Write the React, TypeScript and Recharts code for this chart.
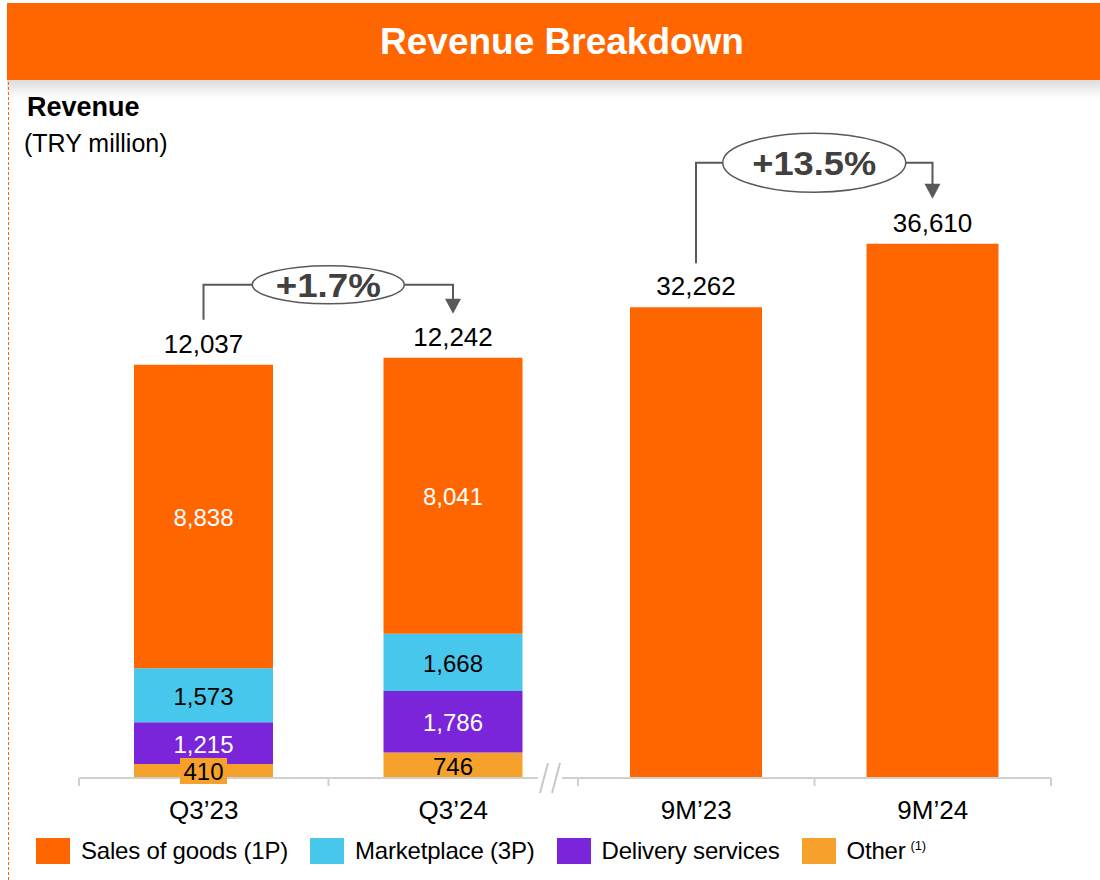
import React from "react";
import { BarChart, Bar, XAxis, YAxis, LabelList } from "recharts";

// ---------- data ----------
const q3Categories = ["Q3’23", "Q3’24"];
const nineMonthCategories = ["9M’23", "9M’24"];
const salesOfGoods1P = [8838, 8041];
const marketplace3P = [1573, 1668];
const deliveryServices = [1215, 1786];
const otherRevenue = [410, 746];
const q3Totals = [12037, 12242];
const nineMonthTotals = [32262, 36610];
const q3Growth = "+1.7%";
const nineMonthGrowth = "+13.5%";

const seriesNames = ["Sales of goods (1P)", "Marketplace (3P)", "Delivery services", "Other"];
const seriesColors = ["#FF6600", "#47C7EC", "#7A25DA", "#F5A12C"];

const q3Data = q3Categories.map((category, i) => ({
  category,
  other: otherRevenue[i],
  delivery: deliveryServices[i],
  marketplace: marketplace3P[i],
  sales: salesOfGoods1P[i],
}));
const nineMonthData = nineMonthCategories.map((category, i) => ({
  category,
  total: nineMonthTotals[i],
}));

// ---------- styles / layout ----------
const FONT = "'Liberation Sans', Arial, Helvetica, sans-serif";
const AXIS = "#d0d0d0";
const LINE = "#595959";
const W = 1100;
const H = 880;
const Q3_LEFT = 79;
const Q3_RIGHT = 578;
const NM_LEFT = 578;
const NM_RIGHT = 1051;
const BOTTOM_MARGIN = 72;

const fmt = (v: number) => v.toLocaleString("en-US");

function getBox(props: any) {
  const vb = props.viewBox && props.viewBox.width !== undefined ? props.viewBox : props;
  const x = Number(vb.x);
  const y = Number(vb.y);
  const w = Number(vb.width);
  const h = Number(vb.height);
  const top = Math.min(y, y + h);
  return { x, top, width: w, height: Math.abs(h), cx: x + w / 2 };
}

function makeSegmentLabel(color: string, boxFill?: string) {
  return (props: any) => {
    const b = getBox(props);
    const cy = b.top + b.height / 2;
    const v = props.value;
    const needBox = boxFill && b.height < 24;
    return (
      <g>
        {needBox ? <rect x={b.cx - 23.5} y={cy - 13} width={47} height={26} fill={boxFill} /> : null}
        <text
          x={b.cx}
          y={cy + 1}
          textAnchor="middle"
          dominantBaseline="central"
          fontSize={24}
          fontFamily={FONT}
          fill={color}
        >
          {fmt(Number(v))}
        </text>
      </g>
    );
  };
}

const stash: Record<string, { cx: number; top: number }> = {};

type BracketCfg = { startGap: number; rise: number; arrowGap: number; rx: number; ry: number; textLen: number; fontSize: number };

function makeTotalLabel(key: string, totals: number[], growth: string, cfg: BracketCfg) {
  return (props: any) => {
    const b = getBox(props);
    const idx = Number(props.index);
    const txt = (
      <text x={b.cx} y={b.top - 12} textAnchor="middle" fontSize={26} fontFamily={FONT} fill="#000">
        {fmt(totals[idx])}
      </text>
    );
    if (idx === 0) {
      stash[key] = { cx: b.cx, top: b.top };
      return txt;
    }
    const a = stash[key];
    if (!a) return txt;
    const by = Math.min(a.top, b.top) - cfg.rise;
    const ex = (a.cx + b.cx) / 2;
    const tip = b.top - cfg.arrowGap;
    return (
      <g>
        {txt}
        <polyline
          points={`${a.cx},${a.top - cfg.startGap} ${a.cx},${by} ${ex - cfg.rx},${by}`}
          fill="none"
          stroke={LINE}
          strokeWidth={2}
        />
        <polyline
          points={`${ex + cfg.rx},${by} ${b.cx},${by} ${b.cx},${tip - 14}`}
          fill="none"
          stroke={LINE}
          strokeWidth={2}
        />
        <polygon points={`${b.cx - 8},${tip - 15} ${b.cx + 8},${tip - 15} ${b.cx},${tip}`} fill={LINE} />
        <ellipse cx={ex} cy={by} rx={cfg.rx} ry={cfg.ry} fill="#fff" stroke={LINE} strokeWidth={1.5} />
        <text
          x={ex}
          y={by + 1}
          textAnchor="middle"
          dominantBaseline="central"
          fontSize={cfg.fontSize}
          fontWeight="bold"
          fontFamily={FONT}
          fill="#404040"
          textLength={cfg.textLen}
          lengthAdjust="spacingAndGlyphs"
        >
          {growth}
        </text>
      </g>
    );
  };
}

function makeTick(bandWidth: number, count: number, withBreak: boolean) {
  return (props: any) => {
    const { x, y, payload } = props;
    const idx = Number(payload.index);
    const left = x - bandWidth / 2;
    const right = x + bandWidth / 2;
    return (
      <g>
        <line x1={left} x2={left} y1={y} y2={y + 8} stroke={AXIS} strokeWidth={2} />
        {idx === count - 1 ? <line x1={right} x2={right} y1={y} y2={y + 8} stroke={AXIS} strokeWidth={2} /> : null}
        {withBreak && idx === count - 1 ? (
          <g>
            <rect x={right - 40} y={y - 3} width={24} height={6} fill="#fff" />
            <line x1={right - 38} y1={y + 15} x2={right - 30} y2={y - 15} stroke="#c8c8c8" strokeWidth={2} />
            <line x1={right - 26} y1={y + 15} x2={right - 18} y2={y - 15} stroke="#c8c8c8" strokeWidth={2} />
          </g>
        ) : null}
        <text x={x} y={y + 41} textAnchor="middle" fontSize={26} fontFamily={FONT} fill="#000">
          {payload.value}
        </text>
      </g>
    );
  };
}

const q3Bracket: BracketCfg = { startGap: 45, rise: 73, arrowGap: 44, rx: 76, ry: 19, textLen: 105, fontSize: 33 };
const nmBracket: BracketCfg = { startGap: 44, rise: 81, arrowGap: 45, rx: 91.5, ry: 29.5, textLen: 124, fontSize: 33 };

export default function App() {
  const legendOrder = [0, 1, 2, 3];
  return (
    <div style={{ position: "absolute", left: 0, top: 0, width: W, height: H, background: "#fff", fontFamily: FONT, overflow: "hidden" }}>
      {/* title bar */}
      <div style={{ position: "absolute", left: 7, top: 80, width: W - 7, height: 18, background: "linear-gradient(#dcdcdc, #ffffff)" }} />
      <div
        style={{
          position: "absolute",
          left: 7,
          top: 3,
          width: W - 7,
          height: 77,
          background: "#FF6600",
          color: "#fff",
          fontWeight: "bold",
          fontSize: 37,
          display: "flex",
          alignItems: "center",
          justifyContent: "center",
          paddingLeft: 17,
          boxSizing: "border-box",
        }}
      >
        Revenue Breakdown
      </div>
      <div style={{ position: "absolute", left: 8, top: 82, width: 0, height: H - 82, borderLeft: "1px dashed #FF6600" }} />
      <div style={{ position: "absolute", left: 27, top: 90, fontSize: 27, fontWeight: "bold", color: "#000", lineHeight: "34px" }}>
        Revenue
      </div>
      <div style={{ position: "absolute", left: 24, top: 126, fontSize: 25, color: "#000", lineHeight: "34px" }}>
        (TRY million)
      </div>

      {/* Q3 panel */}
      <div style={{ position: "absolute", left: 0, top: 0 }}>
        <BarChart width={W} height={H} data={q3Data} margin={{ top: 160, right: W - Q3_RIGHT, bottom: BOTTOM_MARGIN, left: Q3_LEFT }}>
          <XAxis
            dataKey="category"
            height={30}
            tickSize={0}
            tickMargin={0}
            tickLine={false}
            axisLine={{ stroke: AXIS, strokeWidth: 2 }}
            interval={0}
            tick={makeTick((Q3_RIGHT - Q3_LEFT) / q3Data.length, q3Data.length, true)}
          />
          <YAxis hide domain={[0, 18000]} />
          <Bar dataKey="other" stackId="q3" fill={seriesColors[3]} barSize={139} isAnimationActive={false}>
            <LabelList dataKey="other" content={makeSegmentLabel("#000", seriesColors[3])} />
          </Bar>
          <Bar dataKey="delivery" stackId="q3" fill={seriesColors[2]} barSize={139} isAnimationActive={false}>
            <LabelList dataKey="delivery" content={makeSegmentLabel("#fff")} />
          </Bar>
          <Bar dataKey="marketplace" stackId="q3" fill={seriesColors[1]} barSize={139} isAnimationActive={false}>
            <LabelList dataKey="marketplace" content={makeSegmentLabel("#000")} />
          </Bar>
          <Bar dataKey="sales" stackId="q3" fill={seriesColors[0]} barSize={139} isAnimationActive={false}>
            <LabelList dataKey="sales" content={makeSegmentLabel("#fff")} />
            <LabelList dataKey="sales" content={makeTotalLabel("q3", q3Totals, q3Growth, q3Bracket)} />
          </Bar>
        </BarChart>
      </div>

      {/* 9M panel */}
      <div style={{ position: "absolute", left: 0, top: 0 }}>
        <BarChart width={W} height={H} data={nineMonthData} margin={{ top: 165, right: W - NM_RIGHT, bottom: BOTTOM_MARGIN, left: NM_LEFT }}>
          <XAxis
            dataKey="category"
            height={30}
            tickSize={0}
            tickMargin={0}
            tickLine={false}
            axisLine={{ stroke: AXIS, strokeWidth: 2 }}
            interval={0}
            tick={makeTick((NM_RIGHT - NM_LEFT) / nineMonthData.length, nineMonthData.length, false)}
          />
          <YAxis hide domain={[0, 42000]} />
          <Bar dataKey="total" fill={seriesColors[0]} barSize={132} isAnimationActive={false}>
            <LabelList dataKey="total" content={makeTotalLabel("nm", nineMonthTotals, nineMonthGrowth, nmBracket)} />
          </Bar>
        </BarChart>
      </div>

      {/* legend */}
      <div style={{ position: "absolute", left: 36, top: 838, height: 26, display: "flex", alignItems: "center" }}>
        {legendOrder.map((i) => (
          <div key={i} style={{ display: "flex", alignItems: "center", marginRight: 22 }}>
            <div style={{ width: 34, height: 26, background: seriesColors[i], marginRight: 11 }} />
            <span style={{ fontSize: 24, letterSpacing: -0.2, color: "#000", whiteSpace: "nowrap" }}>
              {seriesNames[i]}
              {i === 3 ? <sup style={{ fontSize: 13, marginLeft: 5 }}>(1)</sup> : null}
            </span>
          </div>
        ))}
      </div>
    </div>
  );
}
